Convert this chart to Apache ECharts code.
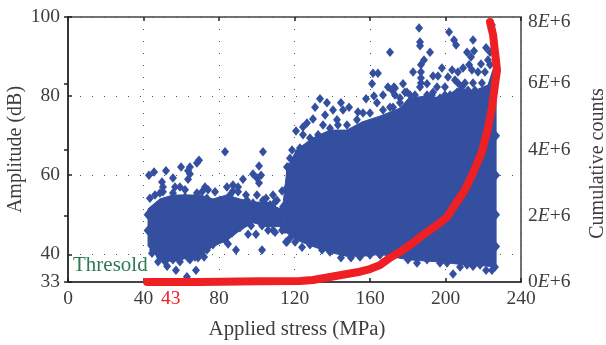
<!DOCTYPE html>
<html><head><meta charset="utf-8">
<style>html,body{margin:0;padding:0;background:#fff}#c{width:606px;height:345px}</style>
<script src="https://cdn.jsdelivr.net/npm/echarts@6/dist/echarts.min.js"></script>
</head><body><div id="c"></div>
<script>
const ampTicks = [33,40,60,80,100];
const bandStress = [42.4,48.7,55.6,63,70,76.8,84.2,91,98,105.4,112.3,114,116,121,129.7,138.7,147.7,156,165.6,176,180.5,190,198.7,207,215,222.5,226.8];
const bandUpper = [51.5,54,55,55,55,54,55,54,53.2,53.2,51.5,53,61.5,66.4,69.4,71.4,71.4,73.5,75,77,79.5,80,79.5,82,81.3,82.8,89.1];
const bandLower = [42.1,38.5,38.2,39,39.7,42,43.5,46,48,47,47,45.4,45.4,43.6,42,40.5,39.5,39.5,40,39,38.6,38.3,38,37.5,37.3,37,36.8];
const lowStressHits = [[69.4,63.8],[68.3,63.1],[59.9,62.1],[64.6,62.1],[63.6,61.1],[64.6,60.3],[45.6,60.8],[42.9,60],[51.9,61.1],[55.6,59.3],[56.7,57],[49.8,58.3],[50.3,57],[63.6,59],[72.6,57],[71,55.8],[59.3,57],[62,56.3],[43.4,54.2],[46.1,55],[50.3,55.8],[83.2,65.9],[103.3,65.9],[101.2,62.3],[98,60.3],[100.1,59.3],[102.3,60],[101.2,58],[92.7,59],[84.2,57],[87.4,57.5],[90.1,57],[87.4,56],[90.1,55.8],[94.3,55],[100.1,55],[104.9,54.2],[108.6,55],[113.4,56],[110.7,53.7],[116.6,62.1],[116,56.8],[77.9,55.8],[74.2,56.3],[89,41.1],[102.8,41.1],[95.4,45.1],[99.6,45.1],[106,46.1],[108.6,46.1],[113.4,46.1],[116,43.1],[57.2,36],[67.8,36],[63,34.3],[52.5,37],[47.7,38.1],[44.5,40.3],[59.3,38.1],[64.6,38.6],[68.9,39.1],[72.1,39.3],[76.8,42.4],[83.2,43.6],[84.8,42.6],[73.6,41.1],[42.2,50],[42.2,46],[45,41.1],[48.7,39.3],[51.4,38.1],[55.6,38.6],[59.3,39.1],[63.6,39.1],[67.3,39.3],[71,40.6],[75.2,42.9],[80.5,44.1],[83.2,44.4],[86.9,45.4],[91.1,46.7],[97,47.2],[102.8,47.2],[109.7,45.6],[117.6,44.1],[48.7,55.5],[55.6,55.5],[62,54.5],[68.3,55.5],[73.6,54.2],[80.5,53.7],[85.8,55],[94.8,53.7],[98,53],[103.3,53.7],[107,52.5],[109.7,53.2],[113.9,52]];
const highStressHits = [[161.6,85.8],[164.2,85.8],[161.1,83.1],[169.5,82.3],[172.7,82.3],[133.5,79.3],[137.2,78.3],[144.6,78.3],[130.9,77.2],[148.9,77.2],[157.9,79.3],[162.1,80],[166.9,80.3],[140.4,76.5],[145.7,76.5],[153.6,76],[126.6,73.2],[129.8,74.2],[136.2,75.2],[120.8,71.2],[124.5,70.2],[124.5,72.2],[143,72.7],[118.7,66.4],[163.7,78.3],[170.6,77.2],[186,97.2],[186.5,93.7],[186.5,92.7],[201.9,96.2],[204.5,94.2],[205.6,92.9],[214.6,94.2],[191.8,91.1],[188.6,89.1],[170.6,91.1],[211.4,91.1],[215.1,91.4],[213.5,89.9],[221.5,92.2],[198.1,87.1],[182.8,86.1],[187,87.9],[187,86.1],[187,84.6],[187,83.3],[177.5,83.1],[173.2,82],[193.4,85.1],[196,85.1],[203.5,86.6],[201.3,84.8],[209.3,87.1],[206.6,86.1],[218.8,88.1],[212.5,87.9],[214,86.6],[217.2,86.1],[205,84.1],[206.6,83.3],[220.9,86.1],[190.2,83.1],[179.6,81],[195.5,82.3],[193.4,81],[199.7,82.3],[210.3,83.3],[214.6,83.3],[219.3,83.3],[224.6,98],[223.6,91.1],[222.5,89.1],[223.6,87.9],[115.5,43.1],[120.3,43.1],[124,41.8],[128.2,42.4],[134.6,41.1],[138.8,40.6],[144.6,39.1],[149.9,39.1],[154.7,39.3],[160,39.8],[165.3,39.8],[169.5,40.3],[180.1,38.6],[184.9,37.8],[190.2,38.6],[197.1,37.8],[204,35],[207.7,36.8],[214.6,37],[221.5,36],[224.6,36],[226.2,36.8],[200.8,37.8],[211.4,37.3],[218.3,37.3],[226.8,70],[226.8,60],[226.8,50],[226.8,42],[181.2,80.3],[183.8,80.3],[186.5,82.3],[190.2,80.3],[192.8,80.3],[197.1,79.5],[199.7,80.3],[202.4,80.3],[206.1,81],[208.7,82.3],[211.9,81.5],[215.6,81.5],[218.3,81],[220.9,81.5],[171.7,81.5],[173.2,80.3],[175.9,79.5],[178.5,81],[122.9,66.9],[128.2,69.4],[132.5,70.2],[138.8,71.9],[142.5,74],[135.1,72.7],[147.8,72.7],[153.1,74],[156.3,75.7],[160,75.7],[166.9,76.5],[172.2,77.2],[175.9,78.3],[117.6,64.3],[116,62.1]];
const cumStress = [41.9,70,101.7,122.9,129.8,138.8,147.8,154.7,160,165.3,170.6,175.9,182.8,188.1,195.5,200.8,204,210.3,214.6,219.3,222.5,224.6,226.2,227.3,226.2,225.2,223.6];
const cumCounts = [0,0,0.02e6,0.03e6,0.06e6,0.15e6,0.24e6,0.31e6,0.39e6,0.51e6,0.73e6,0.91e6,1.18e6,1.42e6,1.72e6,1.96e6,2.24e6,2.78e6,3.29e6,3.93e6,4.65e6,5.26e6,5.95e6,6.4e6,6.95e6,7.46e6,7.85e6];

const FONT = '"Liberation Serif", serif';
const INK = '#3d3d3d', BLUE = '#344f9f', RED = '#ee2024', GREEN = '#2f7a4f';
const dotted = {show:true, lineStyle:{color:'#555', width:1, type:[1,11]}};
const rightLabelNumber = {fontFamily:FONT, fontSize:19.5, color:INK};
const rightLabelE = {fontFamily:FONT, fontSize:19.5, color:INK, fontStyle:'italic'};
const lowered = {padding:[10,0,0,0]};
const chart = echarts.init(document.getElementById('c'), null, {renderer:'canvas'});
chart.setOption({
  animation:false,
  backgroundColor:'#fff',
  textStyle:{fontFamily:FONT},
  grid:{left:68, right:85, top:17, bottom:63, outerBoundsMode:'none', containLabel:false, show:true, borderColor:'#444', borderWidth:1.5, backgroundColor:'transparent'},
  xAxis:[
    {type:'value', min:0, max:240, interval:40, position:'bottom',
     name:'Applied stress (MPa)', nameLocation:'middle', nameGap:37, nameMoveOverlap:false,
     nameTextStyle:{fontFamily:FONT, fontSize:20.8, color:INK, padding:[0,0,0,5]},
     axisLine:{show:true, lineStyle:{color:'#444', width:2}},
     axisTick:{show:true, inside:true, length:4, lineStyle:{color:'#222', width:1.5}},
     axisLabel:{fontFamily:FONT, fontSize:19.5, color:INK, margin:7},
     splitLine:dotted},
    {type:'value', min:0, max:240, interval:40, position:'top',
     axisLine:{show:false},
     axisTick:{show:true, inside:true, length:4, lineStyle:{color:'#222', width:1.5}},
     axisLabel:{show:false}, splitLine:{show:false}}
  ],
  yAxis:[
    {type:'value', min:33, max:100, position:'left',
     name:'Amplitude (dB)', nameLocation:'middle', nameGap:42, nameRotate:90, nameMoveOverlap:false,
     nameTextStyle:{fontFamily:FONT, fontSize:20, color:INK},
     axisLine:{show:true, lineStyle:{color:'#444', width:2}},
     axisTick:{show:true, inside:true, length:4, customValues:ampTicks, lineStyle:{color:'#222', width:1.5}},
     axisLabel:{fontFamily:FONT, fontSize:19.5, margin:8, customValues:ampTicks,
       color:v => v === 33 ? GREEN : INK},
     splitLine:dotted},
    {type:'value', min:0, max:8e6, interval:2e6, position:'right',
     name:'Cumulative counts', nameLocation:'middle', nameGap:67, nameRotate:90, nameMoveOverlap:false,
     nameTextStyle:{fontFamily:FONT, fontSize:20, color:INK, padding:[0,28,0,0]},
     axisLine:{show:true, lineStyle:{color:'#333', width:1.5}},
     axisTick:{show:true, inside:true, length:4, lineStyle:{color:'#222', width:1.5}},
     splitLine:{show:false},
     axisLabel:{margin:7, fontFamily:FONT,
       formatter:v => v === 8e6 ? `{top|8}{topE|E}{top|+6}` : `{n|${v/1e6}}{e|E}{n|+6}`,
       rich:{n:rightLabelNumber, e:rightLabelE,
             top:{...rightLabelNumber, ...lowered}, topE:{...rightLabelE, ...lowered}}}}
  ],
  series:[
    {type:'custom', silent:true, z:2, clip:true,
     data:bandStress.slice(1).map((x,i)=>[bandStress[i],bandLower[i],bandUpper[i],x,bandLower[i+1],bandUpper[i+1]]),
     encode:{x:[0,3], y:[1,2,4,5]},
     renderItem:(params, api) => {
       const a = api.coord([api.value(0), api.value(1)]);
       const b = api.coord([api.value(0), api.value(2)]);
       const c = api.coord([api.value(3), api.value(5)]);
       const d = api.coord([api.value(3), api.value(4)]);
       return {type:'polygon', shape:{points:[a,b,c,d]}, style:{fill:BLUE, stroke:BLUE, lineWidth:1}};
     }},
    {type:'scatter', symbol:'diamond', symbolSize:[8,9.5], z:3, silent:true,
     data:lowStressHits.concat(highStressHits), itemStyle:{color:BLUE, opacity:1}},
    {type:'line', yAxisIndex:1, symbol:'none', smooth:false, z:4, silent:true,
     data:cumStress.map((x,i)=>[x,cumCounts[i]]),
     lineStyle:{color:RED, width:8, cap:'round', join:'round'}}
  ],
  graphic:[
    {type:'text', left:73, top:255, z:10, style:{text:'Thresold', font:'21px '+FONT, fill:GREEN}},
    {type:'text', left:161, top:289, z:10, style:{text:'43', font:'19.5px '+FONT, fill:RED}}
  ]
});
</script></body></html>
